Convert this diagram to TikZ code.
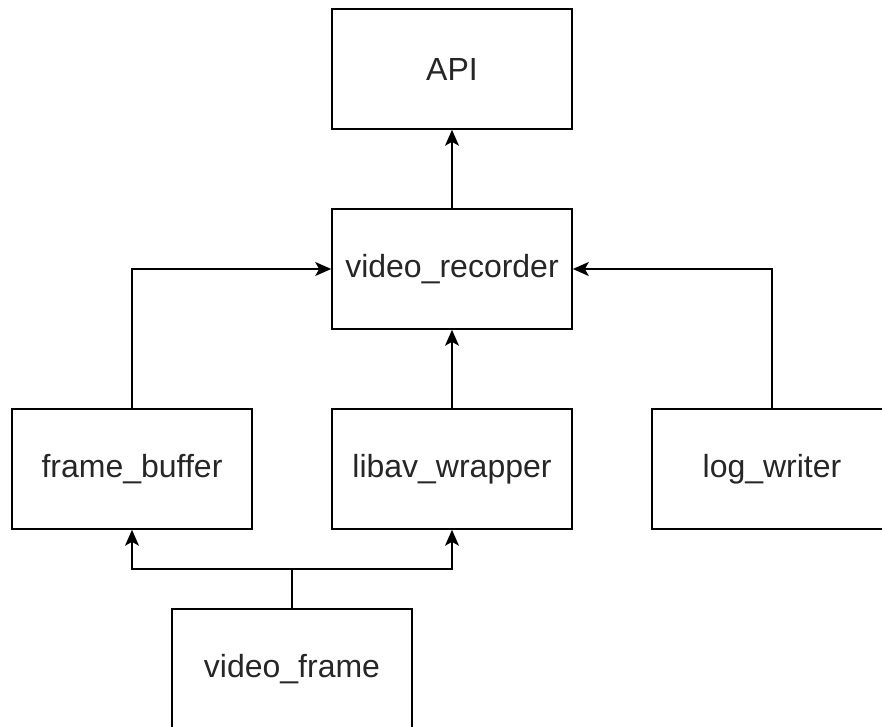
\documentclass[tikz,border=0pt]{standalone}
\usepackage{fontspec}
\setmainfont{Liberation Sans}
\usepackage{tikz}
\usetikzlibrary{arrows.meta}
\usetikzlibrary{positioning}

\tikzset{
  module/.style={draw, line width=1.6pt, minimum width=240pt, minimum height=120pt,
    inner sep=0pt, text=black!85, font=\fontsize{32}{38}\selectfont},
  uses/.style={line width=1.6pt, -{Stealth[length=16pt,width=14pt,inset=4pt]}}
}

\begin{document}
\begin{tikzpicture}[x=1pt,y=-1pt]
\useasboundingbox (0,0) rectangle (882,726);
\node[module] (api) at (452,69) {API};
\node[module] (rec) at (452,269) {video\_recorder};
\node[module] (fbuf) at (132,469) {frame\_buffer};
\node[module] (libav) at (452,469) {libav\_wrapper};
\node[module] (logw) at (772,469) {log\_writer};
\node[module] (vframe) at (292,669) {video\_frame};
\coordinate (split) at (292,569);
\draw[uses] (rec) -- (api);
\draw[uses] (libav) -- (rec);
\draw[uses] (fbuf.north) |- (rec.west);
\draw[uses] (logw.north) |- (rec.east);
\draw[line width=1.6pt] (vframe.north) -- (split);
\draw[uses] (split) -| (fbuf.south);
\draw[uses] (split) -| (libav.south);
\end{tikzpicture}
\end{document}
